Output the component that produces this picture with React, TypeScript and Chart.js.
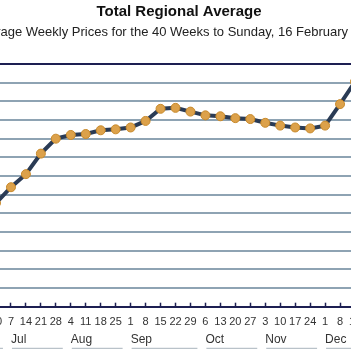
import React, { useEffect, useRef } from "react";
import { Chart, registerables } from "chart.js";

Chart.register(...registerables);

// Week-ending day numbers (Sundays) and their months
const weekDays = ["30", "7", "14", "21", "28", "4", "11", "18", "25", "1", "8", "15", "22", "29", "6", "13", "20", "27", "3", "10", "17", "24", "1", "8", "15"];
const weekMonths = ["Jun", "Jul", "Jul", "Jul", "Jul", "Aug", "Aug", "Aug", "Aug", "Sep", "Sep", "Sep", "Sep", "Sep", "Oct", "Oct", "Oct", "Oct", "Nov", "Nov", "Nov", "Nov", "Dec", "Dec", "Dec"];
// Average weekly price
const prices = [151.1, 152.8, 154.2, 156.4, 158.0, 158.4, 158.5, 158.9, 159.0, 159.2, 159.9, 161.2, 161.3, 160.9, 160.5, 160.4, 160.2, 160.1, 159.7, 159.4, 159.2, 159.1, 159.4, 161.7, 164.1];
const yMin = 140;
const yMax = 166;
const yStep = 2;
const titleText = "Total Regional Average";
const subtitleText = "Average Weekly Prices for the 40 Weeks to Sunday, 16 February 2014";

const FONT = "Arial, 'Liberation Sans', sans-serif";
const NAVY = "#1d1f52";
const GRID = "#8ea3b3";

// Subtitle drawn by hand so that its size/position can be fitted to the cropped reference
const subtitlePlugin = {
  id: "subtitleText",
  afterDraw(chart: any) {
    const ctx = chart.ctx;
    const viewLeft = chart.chartArea.left + 4; // left edge of the visible window
    ctx.save();
    ctx.font = `13px ${FONT}`;
    const span = ctx.measureText(subtitleText.slice(4, subtitleText.indexOf(" 2014"))).width;
    const size = (13 * 348) / span;
    ctx.font = `${size}px ${FONT}`;
    const pre = ctx.measureText(subtitleText.slice(0, 4)).width;
    ctx.fillStyle = "#222";
    ctx.textAlign = "left";
    ctx.textBaseline = "middle";
    ctx.fillText(subtitleText, viewLeft + 0.5 - pre, 32.7);
    ctx.restore();
  },
};

const monthUnderline = {
  id: "monthUnderline",
  afterDraw(chart: any) {
    const x = chart.scales.x;
    const m = chart.scales.xm;
    const ctx = chart.ctx;
    const starts: number[] = [];
    weekMonths.forEach((mo, i) => {
      if (i === 0 || mo !== weekMonths[i - 1]) starts.push(i);
    });
    const y = m.bottom + 1;
    ctx.save();
    ctx.strokeStyle = "#a8b3bc";
    ctx.lineWidth = 1;
    starts.forEach((s, k) => {
      const x1 = k === 0 ? x.left - 30 : x.getPixelForValue(s) + 1;
      const x2 = k + 1 < starts.length ? x.getPixelForValue(starts[k + 1]) - 8 : x.right + 30;
      ctx.beginPath();
      ctx.moveTo(x1, y);
      ctx.lineTo(x2, y);
      ctx.stroke();
    });
    ctx.restore();
  },
};

export default function App() {
  const ref = useRef<HTMLCanvasElement | null>(null);

  useEffect(() => {
    if (!ref.current) return;
    Chart.defaults.font.family = FONT;
    const chart = new Chart(ref.current, {
      type: "line",
      data: {
        labels: weekDays,
        datasets: [
          {
            data: prices,
            borderColor: "#2a3b55",
            borderWidth: 4,
            tension: 0,
            pointRadius: 4.5,
            pointBorderWidth: 1,
            pointBorderColor: "#c88a2c",
            pointBackgroundColor: "#dca14a",
            clip: false as any,
          },
        ],
      },
      options: {
        responsive: false,
        animation: false,
        layout: { padding: { left: 20, right: 20, top: 0, bottom: 12.7 } },
        plugins: {
          legend: { display: false },
          tooltip: { enabled: false },
          title: {
            display: true,
            text: titleText,
            color: "#111",
            font: { size: 15, weight: "bold", family: FONT, lineHeight: 1.2 },
            padding: { top: 3.3, bottom: 42.7 },
          },
          subtitle: { display: false },
        },
        scales: {
          x: {
            type: "category",
            position: "bottom",
            offset: false,
            grid: {
              display: true,
              drawOnChartArea: false,
              drawTicks: true,
              tickLength: -4,
              tickColor: NAVY,
              tickWidth: 1.5,
            },
            border: { display: true, color: NAVY, width: 2 },
            ticks: {
              autoSkip: false,
              maxRotation: 0,
              minRotation: 0,
              padding: 12.5,
              color: "#333",
              font: { size: 11, family: FONT, lineHeight: 1.2 },
            },
            afterFit: (s: any) => {
              s.height = 20;
            },
          },
          xm: {
            type: "category",
            position: "bottom",
            offset: false,
            grid: { display: false, drawTicks: false },
            border: { display: false },
            ticks: {
              autoSkip: false,
              maxRotation: 0,
              minRotation: 0,
              align: "start",
              padding: 6.1,
              color: "#333",
              font: { size: 12, family: FONT, lineHeight: 1.2 },
              callback: (_v: any, i: number) =>
                i > 0 && weekMonths[i] !== weekMonths[i - 1] ? weekMonths[i] : "",
            },
            afterFit: (s: any) => {
              s.height = 20.6;
            },
          },
          y: {
            position: "right",
            min: yMin,
            max: yMax,
            ticks: { display: false, stepSize: yStep },
            border: { display: false },
            grid: {
              drawTicks: false,
              color: (c: any) =>
                c.tick && (c.tick.value === yMax || c.tick.value === yMin) ? NAVY : GRID,
              lineWidth: 2,
            },
            afterFit: (s: any) => {
              s.width = 7;
            },
          },
        },
      } as any,
      plugins: [monthUnderline, subtitlePlugin],
    });
    return () => chart.destroy();
  }, []);

  return (
    <div
      style={{
        position: "fixed",
        left: 0,
        top: 0,
        width: 351,
        height: 351,
        overflow: "hidden",
        background: "#fff",
      }}
    >
      <canvas
        ref={ref}
        width={406}
        height={360}
        style={{ position: "absolute", left: -24, top: 0, width: 406, height: 360 }}
      />
    </div>
  );
}
